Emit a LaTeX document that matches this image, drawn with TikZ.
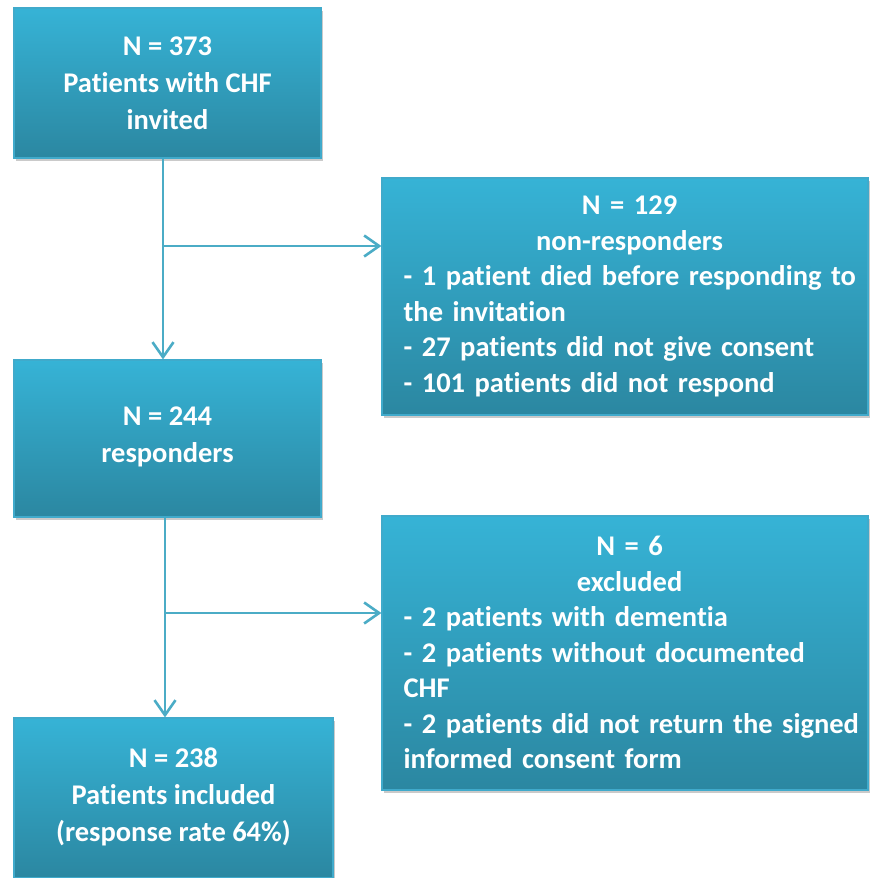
\documentclass[tikz,border=0pt]{standalone}
\usepackage{fontspec}
\setmainfont{Carlito}[Ligatures=NoCommon]
\usetikzlibrary{arrows.meta,shadows}
\definecolor{boxtop}{HTML}{36B3D6}
\definecolor{boxbot}{HTML}{2B87A1}
\definecolor{boxline}{HTML}{40AACB}
\definecolor{conn}{HTML}{4BACC6}
\tikzset{
  flowbox/.style={rectangle, top color=boxtop, bottom color=boxbot, draw=boxline, line width=1.2pt,
    inner sep=0pt, drop shadow={shadow xshift=2pt, shadow yshift=-3pt, opacity=0.35, fill=black!60}},
  boxtext/.style={text=white, font=\fontsize{28.5}{37}\selectfont\bfseries, align=center, inner sep=0pt},
  listtext/.style={text=white, font=\fontsize{28.5}{35.5}\selectfont\bfseries, inner sep=0pt, text width=462pt}, 
  conn/.style={draw=conn, line width=2.6pt, -{Straight Barb[length=15pt,width=21pt,line width=2.6pt]}},
  connline/.style={draw=conn, line width=2.6pt}
}
\begin{document}
\begin{tikzpicture}[x=1pt,y=-1pt]
\useasboundingbox (0,0) rectangle (870,878);
% boxes
\node[flowbox, minimum width=307pt, minimum height=150pt] (b1) at (167.5,83) {};
\node[flowbox, minimum width=486pt, minimum height=237pt] (b2) at (625,296.5) {};
\node[flowbox, minimum width=307pt, minimum height=157pt] (b3) at (167.5,438.5) {};
\node[flowbox, minimum width=486pt, minimum height=274pt] (b4) at (625,653) {};
\node[flowbox, minimum width=319pt, minimum height=160pt] (b5) at (173.5,798) {};
% texts
\node[boxtext] (t1) at (b1.center) {N = 373\\Patients with CHF\\invited};
\node[boxtext] (t3) at ([yshift=1.5pt]b3.center) {N = 244\\responders};
\node[boxtext] (t5) at ([yshift=1pt]b5.center) {N = 238\\Patients included\\(response rate 64\%)};
\node[listtext, anchor=west] (t2) at ([xshift=22pt]b2.west) {\centering\hspace*{-10pt}N = 129\\\hspace*{-10pt}non-responders\par
\raggedright - 1 patient died before responding to\\the invitation\\- 27 patients did not give consent\\- 101 patients did not respond\par};
\node[listtext, anchor=west] (t4) at ([xshift=22pt,yshift=0.5pt]b4.west) {\centering\hspace*{-10pt}N = 6\\\hspace*{-10pt}excluded\par
\raggedright - 2 patients with dementia\\- 2 patients without documented\\CHF\\- 2 patients did not return the signed\\informed consent form\par};
% connectors
\coordinate (v1) at (163,246);
\coordinate (v2) at (165,613);
\draw[conn] (b1.south -| v1) -- (b3.north -| v1);
\draw[conn] (v1) -- (v1 -| b2.west);
\draw[conn] (b3.south -| v2) -- (b5.north -| v2);
\draw[conn] (v2) -- (v2 -| b4.west);
\end{tikzpicture}
\end{document}
